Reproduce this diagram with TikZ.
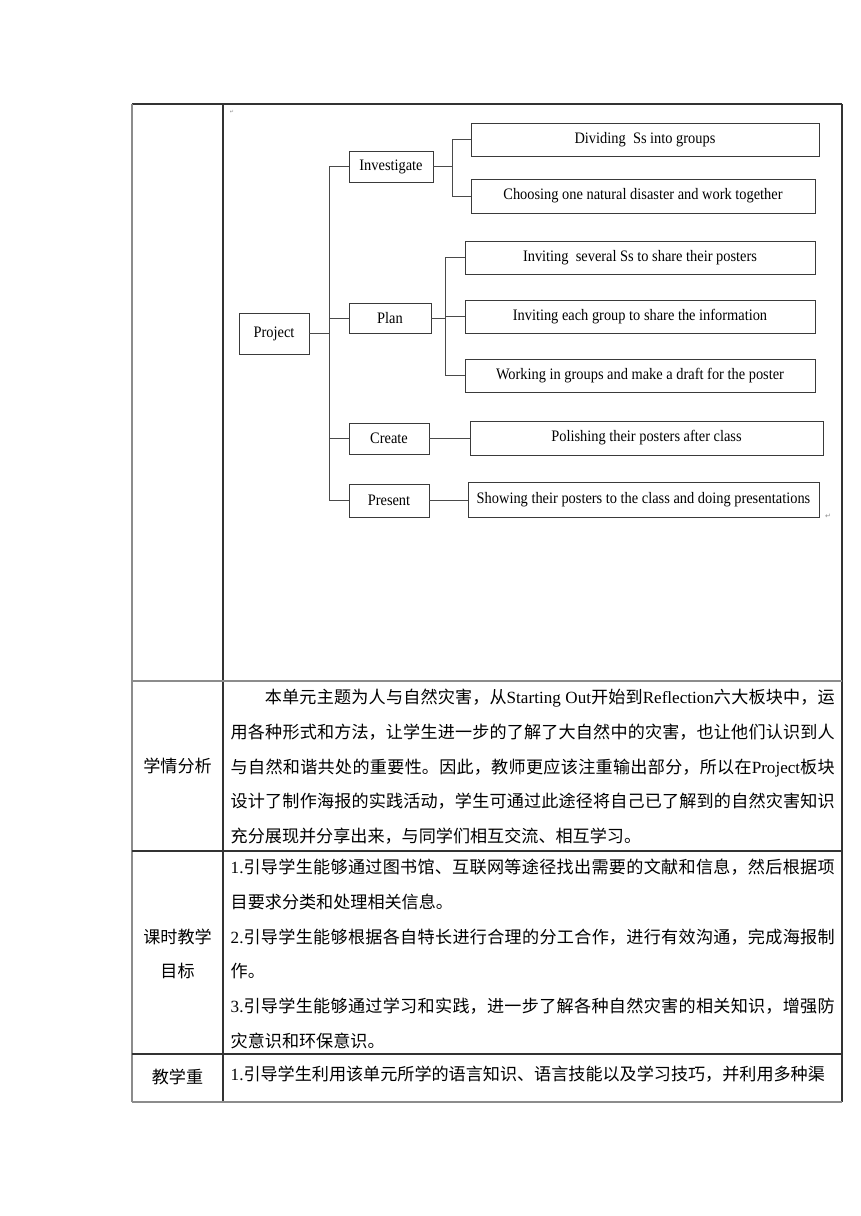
\documentclass[tikz,border=0pt]{standalone}
\usepackage{fontspec}
\setmainfont{Liberation Serif}
\newfontfamily\cjk{Noto Sans CJK SC}
\newfontfamily\diagf[FakeStretch=0.9]{Liberation Serif}
\newfontfamily\symf{DejaVu Sans}
\XeTeXlinebreaklocale "zh"
\XeTeXlinebreakskip=0pt plus 1.5pt minus 0.3pt
\definecolor{boxline}{HTML}{3A3A3A}
\definecolor{connc}{HTML}{4A4A4A}
\tikzset{
  box/.style={draw=boxline, line width=0.9pt, inner sep=0pt, text=black,
    font=\diagf\fontsize{16}{18}\selectfont},
  conn/.style={draw=connc, line width=0.9pt},
  tdark/.style={draw=black!80, line width=1.1pt},
  tgray/.style={draw=black!45, line width=1.4pt},
  para/.style={anchor=base west, text width=604pt, align=justify, inner sep=0pt,
    font=\cjk\fontsize{17.1}{34.8}\selectfont},
  lab/.style={inner sep=0pt, font=\cjk\fontsize{17.1}{34.8}\selectfont},
  pmark/.style={inner sep=0pt, text=black!45}
}
\begin{document}
\begin{tikzpicture}[x=1pt,y=-1pt]
\useasboundingbox[fill=white] (0,0) rectangle (860,1216);

% table
\draw[tdark] (132,104) -- (842,104);
\draw[tdark] (842,104) -- (842,1102);
\draw[tdark] (223,104) -- (223,1102);
\draw[tgray] (132,104) -- (132,1102);
\draw[tgray] (132,681) -- (842,681);
\draw[tdark] (132,851) -- (842,851);
\draw[tdark] (132,1054) -- (842,1054);
\draw[tgray] (132,1102) -- (842,1102);

% diagram nodes
\node[box, minimum width=70pt, minimum height=41pt] (project) at (274,333.5) {Project};
\node[box, minimum width=84pt, minimum height=31pt] (inv) at (391,166.5) {Investigate};
\node[box, minimum width=82pt, minimum height=30pt] (plan) at (390,318) {Plan};
\node[box, minimum width=80pt, minimum height=31pt] (create) at (389,438.5) {Create};
\node[box, minimum width=80pt, minimum height=33pt] (present) at (389,500.5) {Present};
\node[box, minimum width=348pt, minimum height=33pt] (div) at (645,139.5) {Dividing\ \ Ss into groups};
\node[box, minimum width=344pt, minimum height=34pt] (choose) at (643,196) {Choosing one natural disaster and work together};
\node[box, minimum width=350pt, minimum height=33pt] (sev) at (640,257.5) {Inviting\ \ several Ss to share their posters};
\node[box, minimum width=350pt, minimum height=33pt] (each) at (640,316.5) {Inviting each group to share the information};
\node[box, minimum width=350pt, minimum height=33pt] (work) at (640,375.5) {Working in groups and make a draft for the poster};
\node[box, minimum width=353pt, minimum height=34pt] (polish) at (646.5,438) {Polishing their posters after class};
\node[box, minimum width=351pt, minimum height=35pt] (show) at (643.5,499.5) {Showing their posters to the class and doing presentations};

% connectors
\coordinate (trunk) at (329,0);
\coordinate (b1) at (452,0);
\coordinate (b2) at (445,0);
\draw[conn] (project.east) -- (project.east -| trunk);
\draw[conn] (inv.west) -- (inv.west -| trunk) -- (present.west -| trunk) -- (present.west);
\draw[conn] (plan.west) -- (plan.west -| trunk);
\draw[conn] (create.west) -- (create.west -| trunk);
\draw[conn] (inv.east) -- (inv.east -| b1);
\draw[conn] (div.west) -- (div.west -| b1) -- (choose.west -| b1) -- (choose.west);
\draw[conn] (plan.east) -- (plan.east -| b2);
\draw[conn] (sev.west) -- (sev.west -| b2) -- (work.west -| b2) -- (work.west);
\draw[conn] (each.west) -- (each.west -| b2);
\draw[conn] (create.east) -- (create.east -| polish.west);
\draw[conn] (present.east) -- (present.east -| show.west);

% paragraph marks
\node[pmark, font=\symf\fontsize{5}{6}\selectfont] (pm0) at (232,112) {↵};
\node[pmark, font=\symf\fontsize{7}{8}\selectfont] (pm1) at (828,516) {↵};

% left labels
\node[lab] (l2) at (177.5,766) {学情分析};
\node[lab, align=center] (l3) at (177.5,954) {课时教学\\目标};
\node[lab] (l4) at (177.5,1077) {教学重};

% texts
\node[para] (t2) at (230.5,703.5) {\noindent\hspace*{34.2pt}本单元主题为人与自然灾害，从{\rmfamily Starting Out}开始到{\rmfamily Reflection}六大板块中，运\linebreak 用各种形式和方法，让学生进一步的了解了大自然中的灾害，也让他们认识到人\linebreak 与自然和谐共处的重要性。因此，教师更应该注重输出部分，所以在{\rmfamily Project}板块\linebreak 设计了制作海报的实践活动，学生可通过此途径将自己已了解到的自然灾害知识\linebreak 充分展现并分享出来，与同学们相互交流、相互学习。};

\node[para] (t3) at (230.5,873.5) {\noindent{\rmfamily 1.}引导学生能够通过图书馆、互联网等途径找出需要的文献和信息，然后根据项\linebreak 目要求分类和处理相关信息。\par\noindent{\rmfamily 2.}引导学生能够根据各自特长进行合理的分工合作，进行有效沟通，完成海报制\linebreak 作。\par\noindent{\rmfamily 3.}引导学生能够通过学习和实践，进一步了解各种自然灾害的相关知识，增强防\linebreak 灾意识和环保意识。};

\node[para] (t4) at (230.5,1080.5) {\parfillskip=0pt\noindent{\rmfamily 1.}引导学生利用该单元所学的语言知识、语言技能以及学习技巧，并利用多种渠};
\end{tikzpicture}
\end{document}
